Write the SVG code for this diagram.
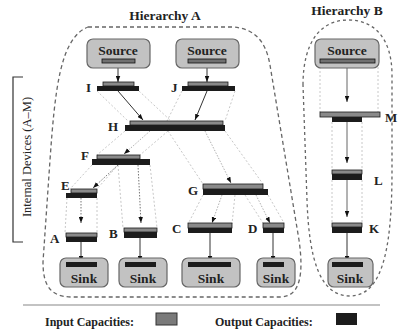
<svg xmlns="http://www.w3.org/2000/svg" width="399" height="333" viewBox="0 0 399 333">
<style>
.in{fill:#8a8a8a;stroke:#1a1a1a;stroke-width:0.8}
.out{fill:#1c1c1c}
.sbar{fill:#707070;stroke:#111;stroke-width:0.8}
.box{fill:#c2c2c2;stroke:#666;stroke-width:1.2}
.lbl{font-family:"Liberation Serif",serif;font-weight:bold;font-size:13px;fill:#222}
.big{font-family:"Liberation Serif",serif;font-weight:bold;font-size:13.5px;fill:#222;text-anchor:middle}
.faint{stroke:#c8c8c8;stroke-width:1;stroke-dasharray:2 2;fill:none}
.dot{stroke:#777;stroke-width:1;stroke-dasharray:1.5 1.5;fill:none;marker-end:url(#ah)}
.ldot{stroke:#b0b0b0;stroke-width:1;stroke-dasharray:1.5 1.5;fill:none;marker-end:url(#ah)}
.solid{stroke:#333;stroke-width:1;fill:none;marker-end:url(#ah)}
.gsolid{stroke:#666;stroke-width:1;fill:none;marker-end:url(#ah)}
.border{fill:none;stroke:#666;stroke-width:1.3;stroke-dasharray:4 3}
</style>
<defs>
<marker id="ah" viewBox="0 0 8 6" refX="8" refY="3" markerWidth="6" markerHeight="5" orient="auto" markerUnits="userSpaceOnUse">
<path d="M0 0 L8 3 L0 6 Z" fill="#111"/>
</marker>
</defs>
<rect width="399" height="333" fill="#fff"/>

<g id="hierarchyA">
<path class="border" d="M88 27 L232 27 C255 28 266 42 270 65 L299 240 C304 275 300 297 280 297 L72 297 C50 297 43 285 43 262 L50 160 C55 90 60 38 88 27 Z"/>
<text class="big" x="165" y="20">Hierarchy A</text>
</g>
<g id="hierarchyB">
<path class="border" style="stroke-dasharray:3 3" d="M303 85 C303 40 322 20 348 20 C374 20 392 38 392 75 L392 170 C392 240 385 296 350 296 C320 296 309 260 307 200 Z"/>
<text class="big" x="347" y="15">Hierarchy B</text>
</g>

<g id="bracket">
<path d="M23 77 L13 77 L13 242 L23 242" fill="none" stroke="#333" stroke-width="1.2"/>
<text transform="translate(31,157) rotate(-90)" font-family="Liberation Serif, serif" font-size="12.5" fill="#222" text-anchor="middle">Internal Devices (A–M)</text>
</g>

<g id="connectors">
<path class="faint" d="M97 91 L128 121 M139 91 L171 121 M182 91 L167 121 M235 91 L225 121"/>
<path class="faint" d="M125 131 L97 155 M168 131 L140 155 M168 131 L203 184 M225 131 L263 184"/>
<path class="faint" d="M92 165 L70 189 M118 165 L97 189 M118 165 L123 228 M150 165 L157 228"/>
<path class="faint" d="M67 198 L65 233 M97 198 L97 233"/>
<path class="faint" d="M203 195 L188 224 M235 195 L232 224 M245 195 L263 223 M268 195 L284 223"/>
<path class="faint" d="M320 67 L320 112 M378 67 L378 112 M332 122 L332 170 M362 122 L362 170 M332 180 L332 223 M362 180 L362 223"/>
<line class="solid" x1="118" y1="64" x2="118" y2="82"/>
<line class="solid" x1="207" y1="64" x2="207" y2="82"/>
<line class="solid" x1="118" y1="91" x2="143" y2="120"/>
<line class="solid" x1="207" y1="91" x2="195" y2="120"/>
<line class="ldot" x1="150" y1="131" x2="124" y2="154"/>
<line class="ldot" x1="205" y1="131" x2="231" y2="183"/>
<line class="dot" x1="118" y1="165" x2="93" y2="188"/>
<line class="dot" x1="138" y1="165" x2="141" y2="223"/>
<line class="dot" x1="81" y1="198" x2="81" y2="223"/>
<line class="ldot" x1="222" y1="195" x2="212" y2="223"/>
<line class="ldot" x1="256" y1="195" x2="270" y2="223"/>
<line class="solid" x1="81" y1="242" x2="81" y2="262"/>
<line class="solid" x1="140" y1="238" x2="140" y2="262"/>
<line class="solid" x1="210" y1="233" x2="210" y2="262"/>
<line class="solid" x1="273" y1="233" x2="273" y2="262"/>
<line class="solid" x1="347" y1="233" x2="347" y2="262"/>
<line class="gsolid" x1="347" y1="68" x2="347" y2="102"/>
<line class="gsolid" x1="347" y1="122" x2="347" y2="163"/>
<line class="gsolid" x1="347" y1="180" x2="347" y2="217"/>
</g>

<g id="sourceA1">
<rect class="box" x="87" y="39" width="63" height="29" rx="6"/>
<text class="big" x="118" y="55">Source</text>
<rect class="sbar" x="102" y="59" width="33" height="4"/>
</g>
<g id="sourceA2">
<rect class="box" x="176" y="39" width="63" height="29" rx="6"/>
<text class="big" x="207" y="55">Source</text>
<rect class="sbar" x="188" y="59" width="38" height="4"/>
</g>
<g id="sourceB">
<rect class="box" x="315" y="39" width="64" height="29" rx="6"/>
<text class="big" x="347" y="55">Source</text>
<rect class="sbar" x="320" y="59" width="55" height="4"/>
</g>

<g id="deviceI">
<rect class="in" x="103" y="82" width="31" height="4"/>
<rect class="out" x="97" y="86" width="42" height="5"/>
<text class="lbl" x="86" y="92">I</text>
</g>
<g id="deviceJ">
<rect class="in" x="188" y="82" width="40" height="4"/>
<rect class="out" x="182" y="86" width="53" height="5"/>
<text class="lbl" x="171" y="92">J</text>
</g>
<g id="deviceH">
<rect class="in" x="130" y="121" width="93" height="4"/>
<rect class="out" x="125" y="125" width="100" height="6"/>
<text class="lbl" x="108" y="131">H</text>
</g>
<g id="deviceF">
<rect class="in" x="97" y="155" width="43" height="4"/>
<rect class="out" x="92" y="159" width="58" height="6"/>
<text class="lbl" x="81" y="160">F</text>
</g>
<g id="deviceE">
<rect class="in" x="71" y="189" width="26" height="4"/>
<rect class="out" x="66" y="193" width="31" height="5"/>
<text class="lbl" x="61" y="190">E</text>
</g>
<g id="deviceA">
<rect class="in" x="66" y="233" width="31" height="4"/>
<rect class="out" x="66" y="237" width="31" height="5"/>
<text class="lbl" x="50" y="243">A</text>
</g>
<g id="deviceB">
<rect class="in" x="124" y="228" width="33" height="4"/>
<rect class="out" x="124" y="232" width="33" height="6"/>
<text class="lbl" x="109" y="238">B</text>
</g>
<g id="deviceG">
<rect class="in" x="203" y="184" width="60" height="5"/>
<rect class="out" x="203" y="189" width="65" height="6"/>
<text class="lbl" x="188" y="195">G</text>
</g>
<g id="deviceC">
<rect class="in" x="188" y="223" width="44" height="5"/>
<rect class="out" x="188" y="228" width="44" height="5"/>
<text class="lbl" x="172" y="233">C</text>
</g>
<g id="deviceD">
<rect class="in" x="263" y="223" width="21" height="5"/>
<rect class="out" x="263" y="228" width="21" height="5"/>
<text class="lbl" x="248" y="233">D</text>
</g>
<g id="deviceM">
<rect class="in" x="320" y="112" width="60" height="5"/>
<rect class="out" x="332" y="117" width="30" height="5"/>
<text class="lbl" x="385" y="122">M</text>
</g>
<g id="deviceL">
<rect class="in" x="332" y="170" width="30" height="4"/>
<rect class="out" x="332" y="174" width="30" height="6"/>
<text class="lbl" x="374" y="185">L</text>
</g>
<g id="deviceK">
<rect class="in" x="332" y="223" width="30" height="4"/>
<rect class="out" x="332" y="227" width="30" height="6"/>
<text class="lbl" x="369" y="233">K</text>
</g>

<g id="sink1">
<rect class="box" x="60" y="258" width="48" height="29" rx="6"/>
<rect class="out" x="66" y="262" width="31" height="5"/>
<text class="big" x="84" y="283">Sink</text>
</g>
<g id="sink2">
<rect class="box" x="119" y="258" width="48" height="29" rx="6"/>
<rect class="out" x="125" y="262" width="31" height="5"/>
<text class="big" x="143" y="283">Sink</text>
</g>
<g id="sink3">
<rect class="box" x="182" y="258" width="58" height="29" rx="6"/>
<rect class="out" x="188" y="262" width="43" height="5"/>
<text class="big" x="211" y="283">Sink</text>
</g>
<g id="sink4">
<rect class="box" x="257" y="258" width="38" height="29" rx="6"/>
<rect class="out" x="263" y="262" width="21" height="5"/>
<text class="big" x="276" y="283">Sink</text>
</g>
<g id="sinkB">
<rect class="box" x="328" y="258" width="45" height="29" rx="6"/>
<rect class="out" x="332" y="262" width="31" height="5"/>
<text class="big" x="350" y="283">Sink</text>
</g>

<g id="legend">
<line x1="23" y1="305" x2="380" y2="305" stroke="#888" stroke-width="1.2"/>
<text class="lbl" x="45" y="326" style="font-size:12px">Input Capacities:</text>
<rect x="156" y="313" width="21" height="12" fill="#7a7a7a" stroke="#333" stroke-width="1"/>
<text class="lbl" x="215" y="326" style="font-size:12px">Output Capacities:</text>
<rect x="336" y="313" width="21" height="12" fill="#1c1c1c"/>
</g>
</svg>
